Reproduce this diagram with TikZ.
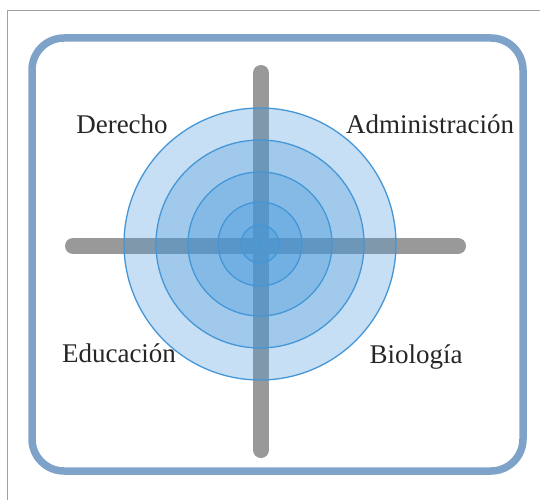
\documentclass[tikz,border=0pt]{standalone}
\usepackage{fontspec}
\setmainfont{Liberation Serif}
\begin{document}
\begin{tikzpicture}[x=1pt,y=-1pt,
  bar/.style={color={rgb,255:red,153;green,153;blue,153}, line width=16pt, line cap=round},
  ring/.style={circle, draw={rgb,255:red,68;green,150;blue,215}, line width=1.3pt, fill={rgb,255:red,70;green,150;blue,218}, fill opacity=0.3, draw opacity=1, inner sep=0pt},
  lbl/.style={font=\fontsize{27}{30}\selectfont, text=black!85}]
\useasboundingbox (0,0) rectangle (540,500);
\draw[color={rgb,255:red,160;green,160;blue,160}, line width=1pt] (7,500) -- (7,11) -- (540,11);
\draw[color={rgb,255:red,127;green,163;blue,200}, line width=7.5pt, rounded corners=32pt] (32,38) rectangle (523,471);
\coordinate (vt) at (261,73);
\coordinate (vb) at (261,450);
\coordinate (hl) at (73,246);
\coordinate (hr) at (458,246);
\draw[bar] (vt) -- (vb);
\draw[bar] (hl) -- (hr);
\node[ring, minimum size=272pt] (c1) at (260,244) {};
\node[ring, minimum size=208pt] (c2) at (260,244) {};
\node[ring, minimum size=144pt] (c3) at (260,244) {};
\node[ring, minimum size=84pt] (c4) at (260,244) {};
\node[ring, minimum size=38pt] (c5) at (260,244) {};
\node[ring, minimum size=4pt, line width=0.6pt] (c6) at (260,244) {};
\node[lbl] (d) at (122,124) {Derecho};
\node[lbl] (a) at (430,124) {Administración};
\node[lbl] (e) at (119,353) {Educación};
\node[lbl] (b) at (416,357) {Biología};
\end{tikzpicture}
\end{document}
